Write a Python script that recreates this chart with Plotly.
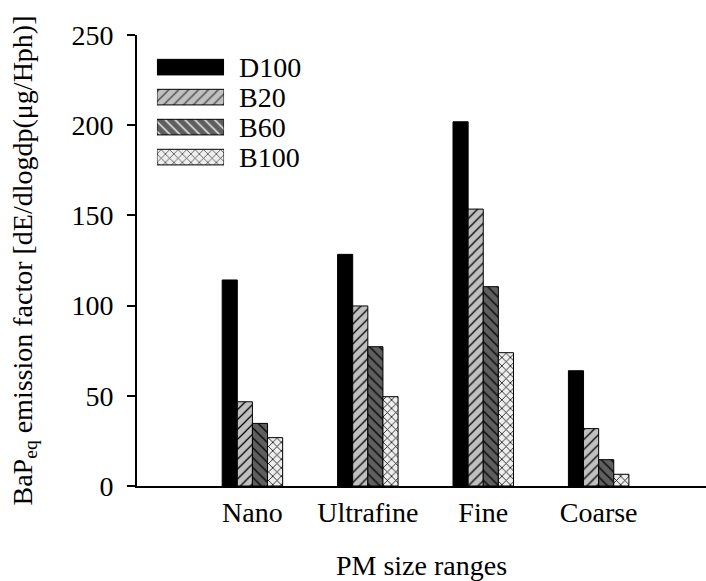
import plotly.graph_objects as go

categories = ["Nano", "Ultrafine", "Fine", "Coarse"]
series_names = ["D100", "B20", "B60", "B100"]
d100 = [114.2, 128.4, 201.9, 63.9]
b20 = [46.7, 99.8, 153.5, 31.8]
b60 = [34.7, 77.2, 110.5, 14.6]
b100 = [26.8, 49.5, 73.9, 6.5]
series_values = [d100, b20, b60, b100]

bg_colors = ["#000000", "#c0c0c0", "#5f5f5f", "#eeeeee"]
shapes = ["", "/", "\\", "x"]
pattern_sizes = [7, 7, 7, 6]
solidities = [0.18, 0.18, 0.18, 0.24]

FONT = "Times New Roman, Liberation Serif, serif"
FS = 28

fig = go.Figure()

for name, vals, bg, shp, ps, so in zip(series_names, series_values, bg_colors, shapes, pattern_sizes, solidities):
    fig.add_trace(go.Bar(
        x=categories, y=vals, name=name, showlegend=False,
        marker=dict(color=bg, line=dict(color="black", width=1),
                    pattern=dict(shape=shp, fgcolor="black", fgopacity=1, size=ps,
                                 solidity=so, fillmode="overlay")),
        xaxis="x", yaxis="y",
    ))

# Legend swatches drawn as a small horizontal bar chart on overlay axes
fig.add_trace(go.Bar(
    x=[1] * len(series_names), y=series_names, orientation="h", showlegend=False,
    width=[0.52] * len(series_names),
    marker=dict(color=bg_colors, line=dict(color="black", width=1),
                pattern=dict(shape=shapes, fgcolor="black", fgopacity=1, size=pattern_sizes,
                             solidity=solidities, fillmode="overlay")),
    xaxis="x2", yaxis="y2", hoverinfo="skip",
))

fig.update_layout(
    width=706, height=581,
    margin=dict(l=137, r=0, t=35, b=95),
    paper_bgcolor="white", plot_bgcolor="white",
    font=dict(family=FONT, size=FS, color="black"),
    barmode="group", bargap=0.476, bargroupgap=0,
    xaxis=dict(
        range=[-1, 3.93], showline=True, linewidth=2, linecolor="black",
        ticks="", showgrid=False, zeroline=False,
        tickfont=dict(family=FONT, size=FS),
        title=dict(text="PM size ranges", font=dict(family=FONT, size=FS), standoff=30),
    ),
    yaxis=dict(
        range=[0, 250], dtick=50, showline=True, linewidth=2, linecolor="black",
        ticks="outside", ticklen=8, tickwidth=2, tickcolor="black",
        showgrid=False, zeroline=False,
        tickfont=dict(family=FONT, size=FS),
        ticklabelstandoff=8,
        title=dict(text="BaP<sub>eq</sub> emission factor [dE/dlogdp(μg/Hph)]",
                   font=dict(family=FONT, size=FS), standoff=31),
    ),
    xaxis2=dict(domain=[0.035, 0.153], anchor="y2", range=[0, 1], visible=False,
                fixedrange=True),
    yaxis2=dict(domain=[0.696, 0.962], anchor="x2", autorange="reversed",
                side="right", showline=False, ticks="", showgrid=False,
                zeroline=False, tickfont=dict(family=FONT, size=FS),
                tickmode="array", tickvals=series_names, ticktext=series_names,
                ticklabelstandoff=14, fixedrange=True),
)

fig.write_html("out.html")
